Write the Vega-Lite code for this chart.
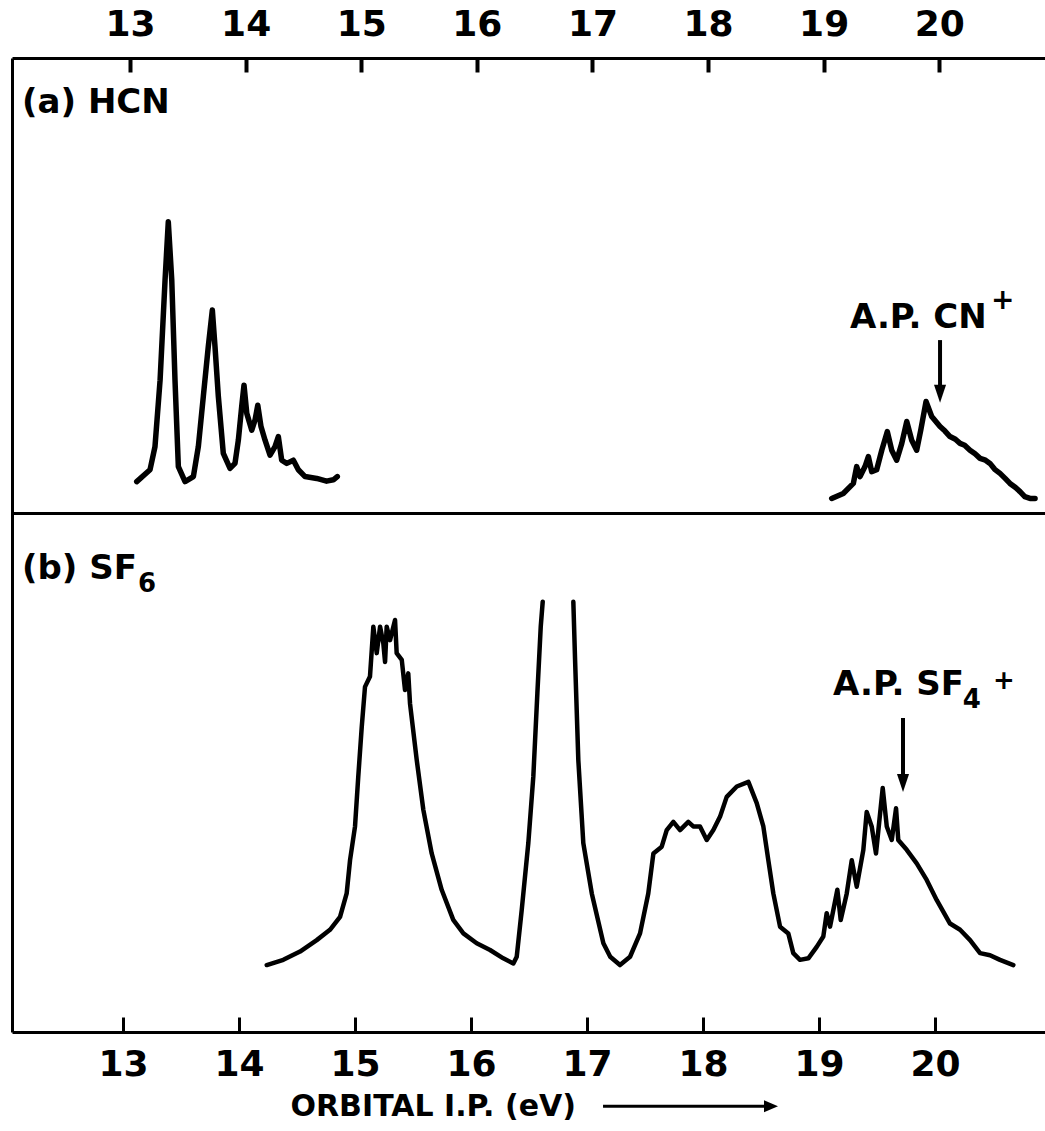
{
  "$schema": "https://vega.github.io/schema/vega-lite/v6.json",
  "width": 1033,
  "height": 974,
  "autosize": "none",
  "padding": {"left": 12, "top": 58, "right": 0, "bottom": 99},
  "background": "white",
  "config": {"view": {"stroke": null}, "font": "DejaVu Sans"},
  "datasets": {
    "hcn": [
      {"ev": 13.058, "i": 6.9, "seg": "a"}, {"ev": 13.173, "i": 9.5, "seg": "a"}, {"ev": 13.216, "i": 14.6, "seg": "a"},
      {"ev": 13.26, "i": 29.2, "seg": "a"}, {"ev": 13.303, "i": 51.2, "seg": "a"}, {"ev": 13.331, "i": 64.0, "seg": "a"},
      {"ev": 13.361, "i": 51.2, "seg": "a"}, {"ev": 13.389, "i": 29.2, "seg": "a"}, {"ev": 13.418, "i": 10.2, "seg": "a"},
      {"ev": 13.476, "i": 6.9, "seg": "a"}, {"ev": 13.548, "i": 8.0, "seg": "a"}, {"ev": 13.591, "i": 14.6, "seg": "a"},
      {"ev": 13.634, "i": 25.6, "seg": "a"}, {"ev": 13.677, "i": 36.6, "seg": "a"}, {"ev": 13.712, "i": 44.6, "seg": "a"},
      {"ev": 13.735, "i": 36.6, "seg": "a"}, {"ev": 13.764, "i": 25.6, "seg": "a"}, {"ev": 13.807, "i": 13.1, "seg": "a"},
      {"ev": 13.865, "i": 9.8, "seg": "a"}, {"ev": 13.908, "i": 10.9, "seg": "a"}, {"ev": 13.937, "i": 16.0, "seg": "a"},
      {"ev": 13.966, "i": 23.4, "seg": "a"}, {"ev": 13.986, "i": 28.1, "seg": "a"}, {"ev": 14.01, "i": 21.9, "seg": "a"},
      {"ev": 14.053, "i": 18.2, "seg": "a"}, {"ev": 14.081, "i": 20.4, "seg": "a"}, {"ev": 14.105, "i": 23.7, "seg": "a"},
      {"ev": 14.133, "i": 19.0, "seg": "a"}, {"ev": 14.168, "i": 16.0, "seg": "a"}, {"ev": 14.211, "i": 12.7, "seg": "a"},
      {"ev": 14.254, "i": 14.6, "seg": "a"}, {"ev": 14.283, "i": 16.8, "seg": "a"}, {"ev": 14.312, "i": 11.6, "seg": "a"},
      {"ev": 14.356, "i": 10.9, "seg": "a"}, {"ev": 14.413, "i": 11.6, "seg": "a"}, {"ev": 14.456, "i": 9.5, "seg": "a"},
      {"ev": 14.514, "i": 8.0, "seg": "a"}, {"ev": 14.615, "i": 7.6, "seg": "a"}, {"ev": 14.7, "i": 7.0, "seg": "a"},
      {"ev": 14.759, "i": 7.3, "seg": "a"}, {"ev": 14.793, "i": 8.0, "seg": "a"},
      {"ev": 19.07, "i": 3.2, "seg": "b"}, {"ev": 19.17, "i": 4.3, "seg": "b"}, {"ev": 19.257, "i": 6.5, "seg": "b"},
      {"ev": 19.286, "i": 10.2, "seg": "b"}, {"ev": 19.315, "i": 8.0, "seg": "b"}, {"ev": 19.358, "i": 10.2, "seg": "b"},
      {"ev": 19.387, "i": 12.4, "seg": "b"}, {"ev": 19.416, "i": 9.1, "seg": "b"}, {"ev": 19.459, "i": 9.5, "seg": "b"},
      {"ev": 19.503, "i": 13.8, "seg": "b"}, {"ev": 19.551, "i": 17.9, "seg": "b"}, {"ev": 19.589, "i": 13.8, "seg": "b"},
      {"ev": 19.632, "i": 11.6, "seg": "b"}, {"ev": 19.676, "i": 15.3, "seg": "b"}, {"ev": 19.719, "i": 20.1, "seg": "b"},
      {"ev": 19.762, "i": 16.0, "seg": "b"}, {"ev": 19.805, "i": 13.8, "seg": "b"}, {"ev": 19.84, "i": 18.2, "seg": "b"},
      {"ev": 19.886, "i": 24.5, "seg": "b"}, {"ev": 19.935, "i": 21.2, "seg": "b"}, {"ev": 20.007, "i": 19.0, "seg": "b"},
      {"ev": 20.05, "i": 18.0, "seg": "b"}, {"ev": 20.093, "i": 16.8, "seg": "b"}, {"ev": 20.14, "i": 16.2, "seg": "b"},
      {"ev": 20.18, "i": 15.3, "seg": "b"}, {"ev": 20.22, "i": 14.9, "seg": "b"}, {"ev": 20.266, "i": 13.8, "seg": "b"},
      {"ev": 20.31, "i": 13.0, "seg": "b"}, {"ev": 20.353, "i": 12.0, "seg": "b"}, {"ev": 20.4, "i": 11.6, "seg": "b"},
      {"ev": 20.439, "i": 10.9, "seg": "b"}, {"ev": 20.48, "i": 9.6, "seg": "b"}, {"ev": 20.526, "i": 8.7, "seg": "b"},
      {"ev": 20.57, "i": 7.6, "seg": "b"}, {"ev": 20.612, "i": 6.5, "seg": "b"}, {"ev": 20.66, "i": 5.6, "seg": "b"},
      {"ev": 20.699, "i": 4.7, "seg": "b"}, {"ev": 20.74, "i": 3.6, "seg": "b"}, {"ev": 20.785, "i": 3.2, "seg": "b"},
      {"ev": 20.829, "i": 3.2, "seg": "b"}
    ],
    "sf6": [
      {"ev": 14.239, "i": 12.9, "seg": "a"}, {"ev": 14.382, "i": 13.9, "seg": "a"}, {"ev": 14.526, "i": 15.5, "seg": "a"},
      {"ev": 14.67, "i": 17.7, "seg": "a"}, {"ev": 14.784, "i": 19.7, "seg": "a"}, {"ev": 14.871, "i": 22.2, "seg": "a"},
      {"ev": 14.928, "i": 26.7, "seg": "a"}, {"ev": 14.957, "i": 33.1, "seg": "a"}, {"ev": 15.0, "i": 39.6, "seg": "a"},
      {"ev": 15.028, "i": 49.2, "seg": "a"}, {"ev": 15.058, "i": 58.8, "seg": "a"}, {"ev": 15.086, "i": 66.5, "seg": "a"},
      {"ev": 15.129, "i": 68.5, "seg": "a"}, {"ev": 15.158, "i": 78.1, "seg": "a"}, {"ev": 15.187, "i": 73.0, "seg": "a"},
      {"ev": 15.216, "i": 78.1, "seg": "a"}, {"ev": 15.244, "i": 74.9, "seg": "a"}, {"ev": 15.259, "i": 71.3, "seg": "a"},
      {"ev": 15.273, "i": 78.1, "seg": "a"}, {"ev": 15.302, "i": 75.5, "seg": "a"}, {"ev": 15.345, "i": 79.4, "seg": "a"},
      {"ev": 15.359, "i": 73.0, "seg": "a"}, {"ev": 15.403, "i": 71.7, "seg": "a"}, {"ev": 15.431, "i": 65.9, "seg": "a"},
      {"ev": 15.459, "i": 69.1, "seg": "a"}, {"ev": 15.474, "i": 63.3, "seg": "a"}, {"ev": 15.532, "i": 52.4, "seg": "a"},
      {"ev": 15.589, "i": 42.8, "seg": "a"}, {"ev": 15.661, "i": 34.4, "seg": "a"}, {"ev": 15.747, "i": 27.4, "seg": "a"},
      {"ev": 15.847, "i": 21.6, "seg": "a"}, {"ev": 15.934, "i": 19.0, "seg": "a"}, {"ev": 16.049, "i": 17.1, "seg": "a"},
      {"ev": 16.164, "i": 15.8, "seg": "a"}, {"ev": 16.278, "i": 14.2, "seg": "a"}, {"ev": 16.365, "i": 13.2, "seg": "a"},
      {"ev": 16.394, "i": 14.5, "seg": "a"}, {"ev": 16.437, "i": 23.5, "seg": "a"}, {"ev": 16.494, "i": 36.4, "seg": "a"},
      {"ev": 16.537, "i": 49.2, "seg": "a"}, {"ev": 16.572, "i": 65.3, "seg": "a"}, {"ev": 16.601, "i": 78.1, "seg": "a"},
      {"ev": 16.618, "i": 82.9, "seg": "a"},
      {"ev": 16.882, "i": 82.9, "seg": "b"}, {"ev": 16.897, "i": 71.7, "seg": "b"}, {"ev": 16.925, "i": 52.4, "seg": "b"},
      {"ev": 16.968, "i": 36.4, "seg": "b"}, {"ev": 17.041, "i": 26.7, "seg": "b"}, {"ev": 17.141, "i": 17.1, "seg": "b"},
      {"ev": 17.2, "i": 14.5, "seg": "b"}, {"ev": 17.284, "i": 12.9, "seg": "b"}, {"ev": 17.371, "i": 14.5, "seg": "b"},
      {"ev": 17.457, "i": 19.0, "seg": "b"}, {"ev": 17.528, "i": 26.7, "seg": "b"}, {"ev": 17.572, "i": 34.4, "seg": "b"},
      {"ev": 17.644, "i": 35.7, "seg": "b"}, {"ev": 17.687, "i": 38.9, "seg": "b"}, {"ev": 17.744, "i": 40.5, "seg": "b"},
      {"ev": 17.802, "i": 38.9, "seg": "b"}, {"ev": 17.873, "i": 40.5, "seg": "b"}, {"ev": 17.916, "i": 39.6, "seg": "b"},
      {"ev": 17.974, "i": 39.6, "seg": "b"}, {"ev": 18.032, "i": 37.0, "seg": "b"}, {"ev": 18.089, "i": 38.9, "seg": "b"},
      {"ev": 18.147, "i": 41.5, "seg": "b"}, {"ev": 18.204, "i": 45.3, "seg": "b"}, {"ev": 18.291, "i": 47.3, "seg": "b"},
      {"ev": 18.391, "i": 48.2, "seg": "b"}, {"ev": 18.463, "i": 44.1, "seg": "b"}, {"ev": 18.52, "i": 39.6, "seg": "b"},
      {"ev": 18.563, "i": 33.1, "seg": "b"}, {"ev": 18.606, "i": 26.7, "seg": "b"}, {"ev": 18.664, "i": 20.3, "seg": "b"},
      {"ev": 18.735, "i": 19.0, "seg": "b"}, {"ev": 18.778, "i": 15.2, "seg": "b"}, {"ev": 18.836, "i": 13.9, "seg": "b"},
      {"ev": 18.908, "i": 14.2, "seg": "b"}, {"ev": 18.98, "i": 16.4, "seg": "b"}, {"ev": 19.037, "i": 18.4, "seg": "b"},
      {"ev": 19.066, "i": 22.9, "seg": "b"}, {"ev": 19.095, "i": 20.3, "seg": "b"}, {"ev": 19.158, "i": 27.4, "seg": "b"},
      {"ev": 19.187, "i": 21.6, "seg": "b"}, {"ev": 19.239, "i": 26.7, "seg": "b"}, {"ev": 19.282, "i": 33.1, "seg": "b"},
      {"ev": 19.325, "i": 28.0, "seg": "b"}, {"ev": 19.382, "i": 35.1, "seg": "b"}, {"ev": 19.411, "i": 42.4, "seg": "b"},
      {"ev": 19.454, "i": 39.6, "seg": "b"}, {"ev": 19.491, "i": 34.4, "seg": "b"}, {"ev": 19.549, "i": 47.0, "seg": "b"},
      {"ev": 19.584, "i": 39.6, "seg": "b"}, {"ev": 19.627, "i": 37.0, "seg": "b"}, {"ev": 19.664, "i": 43.1, "seg": "b"},
      {"ev": 19.683, "i": 37.0, "seg": "b"}, {"ev": 19.756, "i": 35.1, "seg": "b"}, {"ev": 19.842, "i": 32.5, "seg": "b"},
      {"ev": 19.928, "i": 29.3, "seg": "b"}, {"ev": 20.015, "i": 25.4, "seg": "b"}, {"ev": 20.129, "i": 20.9, "seg": "b"},
      {"ev": 20.216, "i": 19.7, "seg": "b"}, {"ev": 20.302, "i": 17.7, "seg": "b"}, {"ev": 20.388, "i": 15.2, "seg": "b"},
      {"ev": 20.474, "i": 14.8, "seg": "b"}, {"ev": 20.56, "i": 13.9, "seg": "b"}, {"ev": 20.675, "i": 12.9, "seg": "b"}
    ],
    "hcnText": [
      {"ev": 12.066, "i": 90.1, "t": "(a) HCN"},
      {"ev": 19.228, "i": 42.9, "t": "A.P. CN"}
    ],
    "hcnSmall": [{"ev": 20.55, "i": 46.6, "t": "+"}],
    "hcnArrow": [{"ev": 20.007, "i": 38.0, "i2": 26.2}],
    "sf6Text": [
      {"ev": 12.129, "i": 89.2, "t": "(b) SF"},
      {"ev": 19.121, "i": 66.9, "t": "A.P. SF"}
    ],
    "sf6Small": [
      {"ev": 13.13, "i": 86.3, "t": "6"},
      {"ev": 20.24, "i": 64.0, "t": "4"},
      {"ev": 20.5, "i": 67.6, "t": "+"}
    ],
    "sf6Arrow": [{"ev": 19.724, "i": 60.5, "i2": 48.0}],
    "titleArrow": [{"ev": 17.138, "ev2": 18.586, "i": -14.3}]
  },
  "layer": [
    {
      "encoding": {
        "x": {
          "field": "ev", "type": "quantitative",
          "scale": {"domain": [11.979, 20.915], "nice": false, "zero": false},
          "axis": {
            "orient": "top", "values": [13, 14, 15, 16, 17, 18, 19, 20], "format": "d", "title": null,
            "grid": false, "domain": true, "domainColor": "black", "domainWidth": 3,
            "ticks": true, "tickColor": "black", "tickWidth": 4, "tickSize": -14,
            "labelFont": "DejaVu Sans",
            "labelFontSize": 36, "labelFontWeight": "bold", "labelColor": "black",
            "labelPadding": 29, "labelFlush": false, "labelOverlap": false
          }
        },
        "y": {
          "field": "i", "type": "quantitative",
          "scale": {"domain": [-114.07, 100], "nice": false, "zero": false},
          "axis": {
            "orient": "left", "values": [0], "grid": true, "gridColor": "black", "gridWidth": 3, "gridOpacity": 1,
            "domain": false, "ticks": false, "labels": false, "title": null
          }
        }
      },
      "layer": [
        {
          "data": {"name": "hcn"},
          "mark": {"type": "line", "color": "black", "strokeWidth": 5.5, "strokeJoin": "round", "strokeCap": "round"},
          "encoding": {"detail": {"field": "seg"}}
        },
        {
          "data": {"name": "hcnText"},
          "mark": {"type": "text", "align": "left", "baseline": "middle", "fontSize": 34, "fontWeight": "bold", "color": "black", "font": "DejaVu Sans"},
          "encoding": {"text": {"field": "t"}}
        },
        {
          "data": {"name": "hcnSmall"},
          "mark": {"type": "text", "align": "center", "baseline": "middle", "fontSize": 28, "fontWeight": "bold", "color": "black", "font": "DejaVu Sans"},
          "encoding": {"text": {"field": "t"}}
        },
        {
          "data": {"name": "hcnArrow"},
          "mark": {"type": "rule", "color": "black", "strokeWidth": 4},
          "encoding": {"y2": {"field": "i2"}}
        },
        {
          "data": {"name": "hcnArrow"},
          "mark": {"type": "point", "shape": "M-0.67,-1L0.67,-1L0,1Z", "filled": true, "color": "black", "size": 324, "opacity": 1},
          "encoding": {"y": {"field": "i2", "type": "quantitative"}}
        }
      ]
    },
    {
      "encoding": {
        "x": {
          "field": "ev", "type": "quantitative",
          "scale": {"domain": [12.043, 20.948], "nice": false, "zero": false},
          "axis": {
            "orient": "bottom", "values": [13, 14, 15, 16, 17, 18, 19, 20], "format": "d",
            "title": "ORBITAL I.P. (eV)",
            "titleFont": "DejaVu Sans",
            "titleFontSize": 30, "titleFontWeight": "bold", "titleColor": "black",
            "titleAnchor": "start", "titleAlign": "left", "titleBaseline": "middle", "titleX": 278, "titleY": 74,
            "grid": false, "domain": true, "domainColor": "black", "domainWidth": 3,
            "ticks": true, "tickColor": "black", "tickWidth": 3, "tickSize": -15,
            "labelFont": "DejaVu Sans",
            "labelFontSize": 36, "labelFontWeight": "bold", "labelColor": "black",
            "labelPadding": 30, "labelFlush": false, "labelOverlap": false
          }
        },
        "y": {
          "field": "i", "type": "quantitative",
          "scale": {"domain": [0, 187.67], "nice": false, "zero": false},
          "axis": {
            "orient": "left", "grid": false, "domain": true, "domainColor": "black", "domainWidth": 3,
            "ticks": false, "labels": false, "title": null
          }
        }
      },
      "layer": [
        {
          "data": {"name": "sf6"},
          "mark": {"type": "line", "color": "black", "strokeWidth": 4.5, "strokeJoin": "round", "strokeCap": "round"},
          "encoding": {"detail": {"field": "seg"}}
        },
        {
          "data": {"name": "sf6Text"},
          "mark": {"type": "text", "align": "left", "baseline": "middle", "fontSize": 34, "fontWeight": "bold", "color": "black", "font": "DejaVu Sans"},
          "encoding": {"text": {"field": "t"}}
        },
        {
          "data": {"name": "sf6Small"},
          "mark": {"type": "text", "align": "left", "baseline": "middle", "fontSize": 26, "fontWeight": "bold", "color": "black", "font": "DejaVu Sans"},
          "encoding": {"text": {"field": "t"}}
        },
        {
          "data": {"name": "sf6Arrow"},
          "mark": {"type": "rule", "color": "black", "strokeWidth": 4},
          "encoding": {"y2": {"field": "i2"}}
        },
        {
          "data": {"name": "sf6Arrow"},
          "mark": {"type": "point", "shape": "M-0.67,-1L0.67,-1L0,1Z", "filled": true, "color": "black", "size": 324, "opacity": 1},
          "encoding": {"y": {"field": "i2", "type": "quantitative"}}
        },
        {
          "data": {"name": "titleArrow"},
          "mark": {"type": "rule", "color": "black", "strokeWidth": 3},
          "encoding": {"x2": {"field": "ev2"}}
        },
        {
          "data": {"name": "titleArrow"},
          "mark": {"type": "point", "shape": "M-1,-0.86L-1,0.86L1,0Z", "filled": true, "color": "black", "size": 196, "opacity": 1},
          "encoding": {"x": {"field": "ev2", "type": "quantitative"}}
        }
      ]
    }
  ],
  "resolve": {"scale": {"x": "independent", "y": "independent"}, "axis": {"x": "independent", "y": "independent"}}
}
